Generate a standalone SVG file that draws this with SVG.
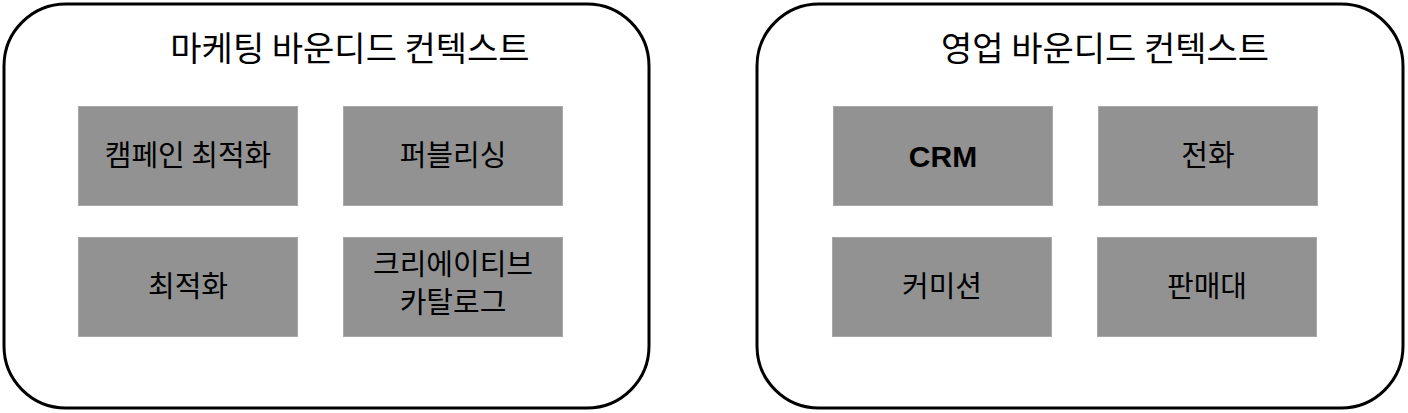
<svg xmlns="http://www.w3.org/2000/svg" width="1408" height="413" viewBox="0 0 1408 413">
<style>
.ctx{fill:#ffffff;stroke:#000000;stroke-width:3}
.box{fill:#929292;stroke:#a8a8a8;stroke-width:1}
.title{font-family:"Noto Sans CJK KR","Noto Sans",sans-serif;font-size:34px;fill:#000;text-anchor:middle}
.lbl{font-family:"Noto Sans CJK KR","Noto Sans",sans-serif;font-size:29px;fill:#000;text-anchor:middle}
.en{font-family:"Liberation Sans","Noto Sans CJK KR",sans-serif;font-size:30px;font-weight:bold;fill:#000;text-anchor:middle}
</style>
<rect width="1408" height="413" fill="#ffffff"/>
<g id="marketing-context">
<rect class="ctx" x="4" y="4" width="645" height="404" rx="62" ry="62"/>
<text class="title" x="350" y="61">마케팅 바운디드 컨텍스트</text>
</g>
<g id="sales-context">
<rect class="ctx" x="757" y="4" width="646" height="404" rx="62" ry="62"/>
<text class="title" x="1105" y="61">영업 바운디드 컨텍스트</text>
</g>
<g id="campaign-optimization">
<rect class="box" x="78.500" y="106.500" width="219" height="99"/>
<text class="lbl" x="188" y="166">캠페인 최적화</text>
</g>
<g id="publishing">
<rect class="box" x="343.500" y="106.500" width="219" height="99"/>
<text class="lbl" x="453" y="166">퍼블리싱</text>
</g>
<g id="optimization">
<rect class="box" x="78.500" y="237.500" width="219" height="99"/>
<text class="lbl" x="188" y="297">최적화</text>
</g>
<g id="creative-catalog">
<rect class="box" x="343.500" y="237.500" width="219" height="99"/>
<text class="lbl" x="453" y="275">크리에이티브</text>
<text class="lbl" x="453" y="313">카탈로그</text>
</g>
<g id="crm">
<rect class="box" x="833.500" y="106.500" width="219" height="99"/>
<text class="en" x="943" y="167">CRM</text>
</g>
<g id="telephone">
<rect class="box" x="1098.500" y="106.500" width="219" height="99"/>
<text class="lbl" x="1208" y="166">전화</text>
</g>
<g id="commission">
<rect class="box" x="832.500" y="237.500" width="219" height="99"/>
<text class="lbl" x="942" y="297">커미션</text>
</g>
<g id="sales-booth">
<rect class="box" x="1097.500" y="237.500" width="219" height="99"/>
<text class="lbl" x="1207" y="297">판매대</text>
</g>
<g id="connectors"></g>
</svg>
